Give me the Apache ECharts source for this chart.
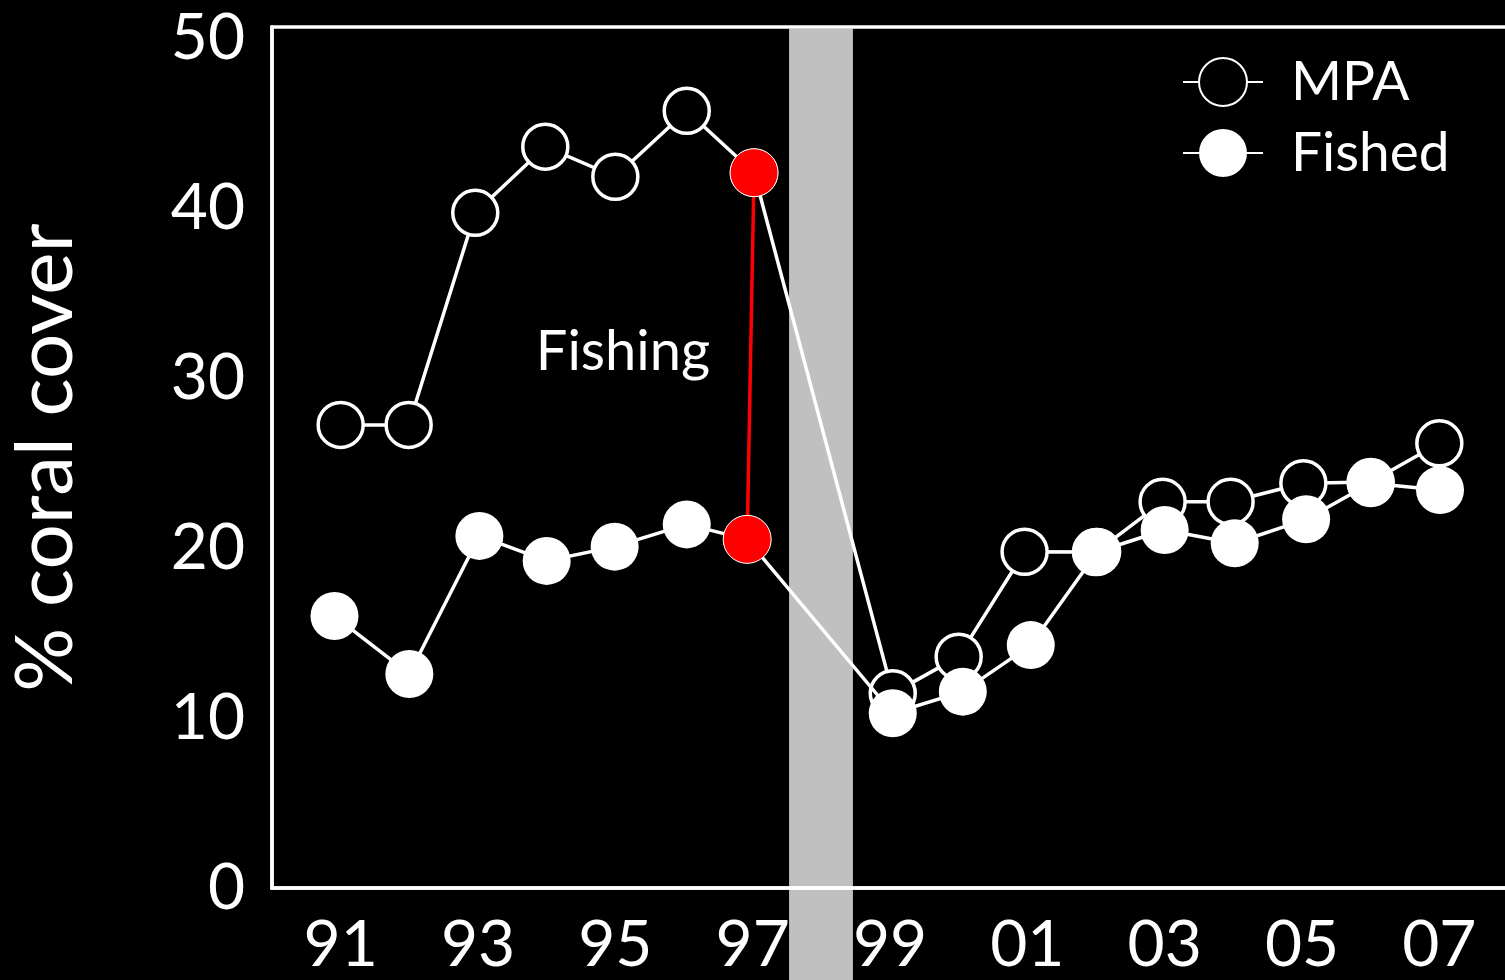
<!DOCTYPE html>
<html>
<head>
<meta charset="utf-8">
<script src="https://cdn.jsdelivr.net/npm/echarts@6/dist/echarts.min.js"></script>
<style>html,body{margin:0;padding:0;background:#000;}#c{width:1505px;height:980px;}</style>
</head>
<body>
<div id="c"></div>
<script>
// Year positions and % coral cover values
const mpaYears    = [1991.00, 1991.99, 1992.96, 1993.98, 1995.00, 1996.04, 1999.04, 2000.00, 2000.96, 2002.00, 2002.97, 2003.96, 2005.02, 2006.00, 2007.00];
const mpaCover    = [27.24, 27.24, 39.72, 43.61, 41.84, 45.72, 11.45, 13.61, 19.78, 19.76, 22.72, 22.72, 23.81, 23.88, 26.16];
const fishedYears = [1990.91, 1992.00, 1993.02, 1994.00, 1994.99, 1996.04, 1999.04, 2000.06, 2001.05, 2002.02, 2003.00, 2004.02, 2005.06, 2006.00, 2007.01];
const fishedCover = [16.00, 12.59, 20.71, 19.24, 20.08, 21.39, 10.28, 11.55, 14.29, 19.78, 21.06, 20.28, 21.69, 23.81, 23.41];
// 1997 survey (highlighted in red): [MPA, Fished]
const year97      = [1997.02, 1996.92];
const cover97     = [42.08, 20.51];
// Disturbance band (years)
const bandYears   = [1997.53, 1998.46];
const yTicks      = [0, 10, 20, 30, 40, 50];

const FONT = 'Lato';
const mpaData = mpaYears.map((x, i) => [x, mpaCover[i]]);
const fishedData = fishedYears.map((x, i) => [x, fishedCover[i]]);
mpaData.splice(6, 0, [year97[0], cover97[0]]);
fishedData.splice(6, 0, [year97[1], cover97[1]]);
const redData = [[year97[0], cover97[0]], [year97[1], cover97[1]]];
const Y_MAX = 50.65;
const LW = 3.5;

const chart = echarts.init(document.getElementById('c'));
chart.setOption({
  backgroundColor: '#000',
  animation: false,
  grid: {
    left: 272, top: 27, right: -3, bottom: 92,
    containLabel: false, outerBoundsMode: 'none',
    show: true, borderColor: '#fff', borderWidth: LW, backgroundColor: 'transparent'
  },
  xAxis: {
    type: 'value', min: 1990, max: 2008, interval: 1,
    axisLine: { show: true, lineStyle: { color: '#fff', width: LW } },
    axisTick: { show: false },
    splitLine: { show: false },
    axisLabel: {
      color: '#fff', fontFamily: FONT, fontSize: 64, margin: 25,
      formatter: v => (Number.isInteger(v) && v % 2 === 1) ? String(v % 100).padStart(2, '0') : ''
    }
  },
  yAxis: {
    type: 'value', min: 0, max: Y_MAX, interval: 10,
    name: '% coral cover', nameLocation: 'middle', nameGap: 186,
    nameTextStyle: { color: '#fff', fontFamily: FONT, fontSize: 80 },
    axisLine: { show: true, lineStyle: { color: '#fff', width: LW } },
    axisTick: { show: false },
    splitLine: { show: false },
    axisLabel: {
      color: '#fff', fontFamily: FONT, fontSize: 64, margin: 27,
      formatter: v => yTicks.includes(v) ? String(v) : ''
    }
  },
  legend: {
    left: 1177, top: 47, orient: 'vertical',
    itemWidth: 80, itemHeight: 60, itemGap: 11,
    data: ['MPA', 'Fished'],
    textStyle: { color: '#fff', fontFamily: FONT, fontSize: 55, lineHeight: 60, padding: [0, 0, 0, 23] }
  },
  graphic: [{
    type: 'text', x: 623, y: 352,
    style: { text: 'Fishing', fill: '#fff', font: '56px Lato', textAlign: 'center', textVerticalAlign: 'middle' }
  }],
  series: [
    {
      type: 'custom', name: 'band', z: -1, silent: true, clip: false,
      data: [bandYears],
      encode: { x: [0, 1] },
      renderItem: (params, api) => {
        const p0 = api.coord([api.value(0), Y_MAX]);
        const p1 = api.coord([api.value(1), 0]);
        return {
          type: 'rect',
          shape: { x: p0[0], y: p0[1] + 1.5, width: p1[0] - p0[0], height: api.getHeight() - p0[1] },
          style: { fill: '#c0c0c0' }
        };
      }
    },
    {
      type: 'line', name: 'MPA', data: mpaData,
      symbol: 'circle', symbolSize: 45,
      lineStyle: { color: '#fff', width: LW },
      itemStyle: { color: '#000', borderColor: '#fff', borderWidth: LW },
      z: 3
    },
    {
      type: 'line', name: 'Fished', data: fishedData,
      symbol: 'circle', symbolSize: 48,
      lineStyle: { color: '#fff', width: LW },
      itemStyle: { color: '#fff', borderColor: '#fff', borderWidth: 0 },
      z: 4
    },
    {
      type: 'line', name: 'red', data: redData,
      symbol: 'circle', symbolSize: 48,
      lineStyle: { color: '#ff0000', width: LW },
      itemStyle: { color: '#ff0000', borderColor: '#fff', borderWidth: 1 },
      z: 5
    }
  ]
});
</script>
</body>
</html>
